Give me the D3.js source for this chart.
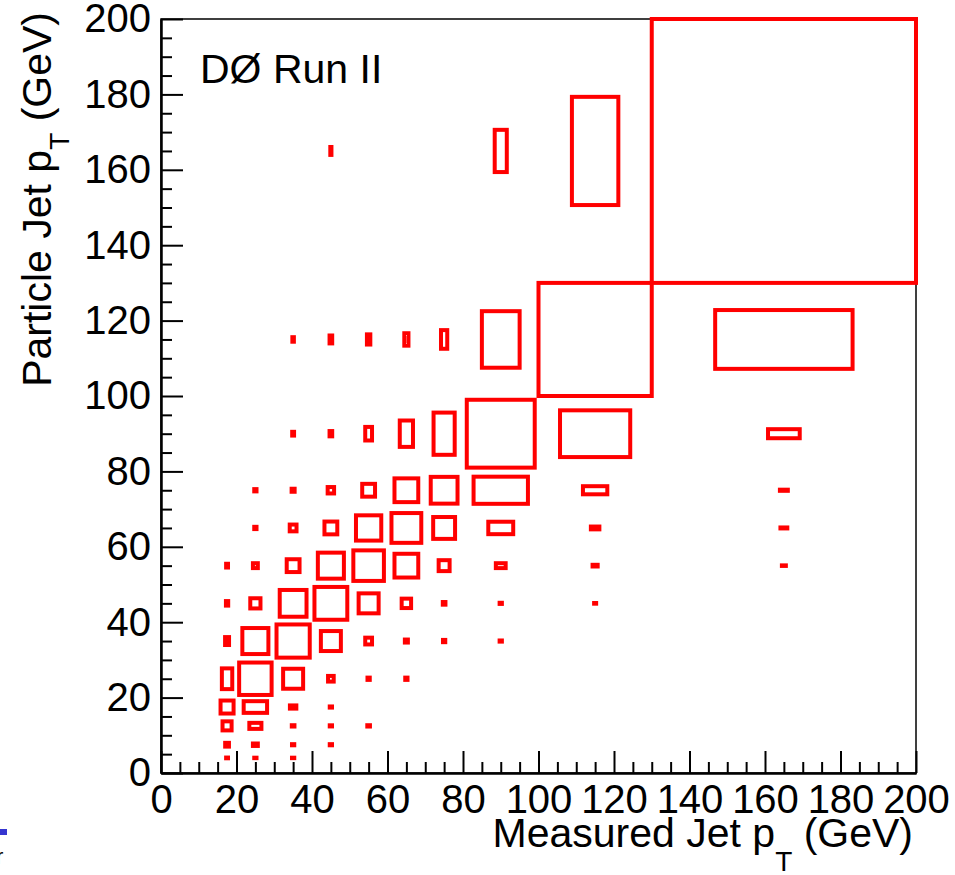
<!DOCTYPE html>
<html>
<head>
<meta charset="utf-8">
<script src="https://cdn.jsdelivr.net/npm/d3@7.9.0/dist/d3.min.js"></script>
<style>
  body { margin: 0; background: #fff; }
  svg { display: block; }
  text { font-family: "Liberation Sans", Arial, Helvetica, sans-serif; fill: #000; }
</style>
</head>
<body>
<svg id="chart"></svg>
<script>
// bin edges (GeV)
const xEdges = [15, 20, 30, 40, 50, 60, 70, 80, 100, 130, 200];
const yEdges = [3, 5, 10, 15, 20, 30, 40, 50, 60, 70, 80, 100, 130, 200];

// relative box size per cell, rows = particle jet pT bins (low to high), cols = measured bins
const boxSizes = [
  [0.10, 0.06, 0.06, 0,    0,    0,    0,     0,    0,     0    ],
  [0.20, 0.13, 0.06, 0.06, 0,    0,    0,     0,    0,     0    ],
  [0.48, 0.32, 0.07, 0.06, 0.07, 0,    0,     0,    0,     0    ],
  [0.69, 0.62, 0.17, 0.06, 0,    0,    0,     0,    0,     0    ],
  [0.55, 0.86, 0.53, 0.15, 0.06, 0.06, 0,     0,    0,     0    ],
  [0.21, 0.69, 0.88, 0.53, 0.18, 0.08, 0.06,  0.03, 0,     0    ],
  [0.12, 0.27, 0.71, 0.87, 0.53, 0.25, 0.07,  0.03, 0.018, 0    ],
  [0.10, 0.13, 0.34, 0.69, 0.81, 0.63, 0.29,  0.13, 0.045, 0.015],
  [0,    0.06, 0.18, 0.34, 0.67, 0.79, 0.58,  0.33, 0.075, 0.026],
  [0,    0.06, 0.08, 0.17, 0.34, 0.63, 0.71,  0.72, 0.215, 0.03 ],
  [0,    0,    0.05, 0.07, 0.18, 0.35, 0.56,  0.90, 0.62,  0.12 ],
  [0,    0,    0.04, 0.07, 0.09, 0.11, 0.165, 0.50, 1.0,   0.52 ],
  [0,    0,    0,    0.03, 0,    0,    0,     0.16, 0.41,  1.0  ]
];

const majorTicks = d3.range(0, 201, 20);
const minorTicks = d3.range(0, 201, 5).filter(d => d % 20 !== 0);

const width = 955, height = 875;
const plot = { left: 161, right: 916, top: 19, bottom: 773 };

const svg = d3.select('#chart').attr('width', width).attr('height', height);

const x = d3.scaleLinear().domain([0, 200]).range([plot.left, plot.right]);
const y = d3.scaleLinear().domain([0, 200]).range([plot.bottom, plot.top]);

// frame
svg.append('rect')
  .attr('x', plot.left).attr('y', plot.top)
  .attr('width', plot.right - plot.left).attr('height', plot.bottom - plot.top)
  .attr('fill', 'none').attr('stroke', '#000').attr('stroke-width', 1.5);

// axes: minor ticks, then major ticks with labels
svg.append('g').attr('transform', `translate(0,${plot.bottom})`)
  .call(d3.axisBottom(x).tickValues(minorTicks).tickSize(-11).tickSizeOuter(0).tickFormat(''));
svg.append('g').attr('transform', `translate(0,${plot.bottom})`)
  .call(d3.axisBottom(x).tickValues(majorTicks).tickSize(-22).tickSizeOuter(0).tickPadding(12));
svg.append('g').attr('transform', `translate(${plot.left},0)`)
  .call(d3.axisLeft(y).tickValues(minorTicks).tickSize(-11).tickSizeOuter(0).tickFormat(''));
svg.append('g').attr('transform', `translate(${plot.left},0)`)
  .call(d3.axisLeft(y).tickValues(majorTicks).tickSize(-22).tickSizeOuter(0).tickPadding(10));

svg.selectAll('.domain').attr('stroke', '#000').attr('stroke-width', 2);
svg.selectAll('.tick line').attr('stroke', '#000').attr('stroke-width', 2);
svg.selectAll('.tick text').style('font-size', '40px').attr('fill', '#000')
  .style('font-family', '"Liberation Sans", Arial, sans-serif');

// boxes
const cells = [];
boxSizes.forEach((row, i) => {
  row.forEach((r, j) => {
    if (r > 0) cells.push({ x0: xEdges[j], x1: xEdges[j + 1], y0: yEdges[i], y1: yEdges[i + 1], r });
  });
});

svg.append('g').attr('class', 'boxes')
  .selectAll('rect')
  .data(cells)
  .join('rect')
  .attr('x', d => x((d.x0 + d.x1) / 2 - d.r * (d.x1 - d.x0) / 2))
  .attr('width', d => x(d.x0 + d.r * (d.x1 - d.x0)) - x(d.x0))
  .attr('y', d => y((d.y0 + d.y1) / 2 + d.r * (d.y1 - d.y0) / 2))
  .attr('height', d => y(d.y0) - y(d.y0 + d.r * (d.y1 - d.y0)))
  .attr('fill', 'none')
  .attr('stroke', '#ff0000')
  .attr('stroke-width', 4);

// labels
svg.append('text')
  .attr('x', 200).attr('y', 83)
  .style('font-size', '41px')
  .text('DØ Run II');

const xTitle = svg.append('text')
  .attr('x', 913).attr('y', 847)
  .attr('text-anchor', 'end')
  .style('font-size', '41px');
xTitle.append('tspan').text('Measured Jet p');
xTitle.append('tspan').attr('dy', 24).style('font-size', '28px').text('T');
xTitle.append('tspan').attr('dy', -24).text(' (GeV)');

const yTitle = svg.append('text')
  .attr('transform', 'translate(51,12) rotate(-90)')
  .attr('text-anchor', 'end')
  .style('font-size', '41px');
yTitle.append('tspan').text('Particle Jet p');
yTitle.append('tspan').attr('dy', 18).style('font-size', '28px').text('T');
yTitle.append('tspan').attr('dy', -18).text(' (GeV)');

// cropped fragment at lower-left edge
svg.append('rect').attr('x', 0).attr('y', 829).attr('width', 7).attr('height', 6).attr('fill', '#3535d0');
svg.append('text').attr('x', -4).attr('y', 864).style('font-size', '22px').text('r');
</script>
</body>
</html>
